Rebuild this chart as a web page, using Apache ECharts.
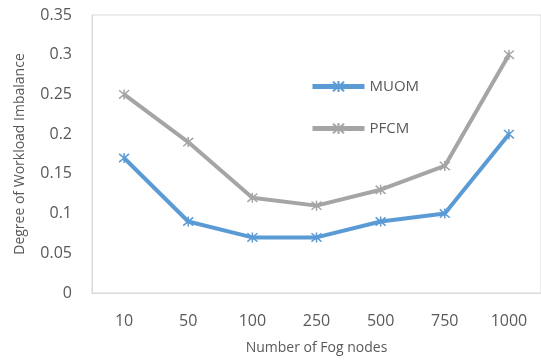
<!DOCTYPE html>
<html><head><meta charset="utf-8">
<script src="https://cdn.jsdelivr.net/npm/echarts@6/dist/echarts.min.js"></script>
<style>html,body{margin:0;padding:0;background:#fff}#c{width:541px;height:361px}</style>
</head><body><div id="c"></div>
<script>
const categories = ['10','50','100','250','500','750','1000'];
const muom = [0.17, 0.09, 0.07, 0.07, 0.09, 0.10, 0.20];
const pfcm = [0.25, 0.19, 0.12, 0.11, 0.13, 0.16, 0.30];
const star = 'path://M0,0L10,10M10,0L0,10M5,-1L5,11';
const font = 'Open Sans';
const chart = echarts.init(document.getElementById('c'));
function s(name, data, color){
  return {name, type:'line', data, symbol: star, symbolSize: 10,
    lineStyle:{color, width:4}, itemStyle:{color, borderColor:color, borderWidth:1.5},
    emphasis:{disabled:true}, animation:false};
}
chart.setOption({
  animation:false,
  grid:{left:92, right:0, top:15, bottom:68, show:true, borderColor:'#d9d9d9', borderWidth:1, backgroundColor:'transparent'},
  legend:{orient:'vertical', left:305, top:74, itemGap:27, itemWidth:52, itemHeight:14,
    lineStyle:{width:5},
    textStyle:{fontFamily:font, fontSize:15, color:'#595959'}, data:['MUOM','PFCM']},
  xAxis:{type:'category', data:categories, boundaryGap:true,
    name:'Number of Fog nodes', nameLocation:'middle', nameGap:48,
    nameTextStyle:{fontFamily:font, fontSize:14, color:'#595959'},
    axisLine:{lineStyle:{color:'#d9d9d9'}}, axisTick:{show:false},
    axisLabel:{fontFamily:font, fontSize:16, color:'#595959', margin:20}},
  yAxis:{type:'value', min:0, max:0.35, interval:0.05,
    name:'Degree of Workload Imbalance', nameLocation:'middle', nameGap:65,
    nameTextStyle:{fontFamily:font, fontSize:14, color:'#595959'},
    splitLine:{show:false}, axisLine:{show:true, lineStyle:{color:'#d9d9d9'}}, axisTick:{show:false},
    axisLabel:{fontFamily:font, fontSize:16, color:'#595959', margin:20,
      formatter: v => String(+v.toFixed(2))}},
  series:[s('MUOM', muom, '#5b9bd5'), s('PFCM', pfcm, '#a5a5a5')]
});
</script></body></html>
